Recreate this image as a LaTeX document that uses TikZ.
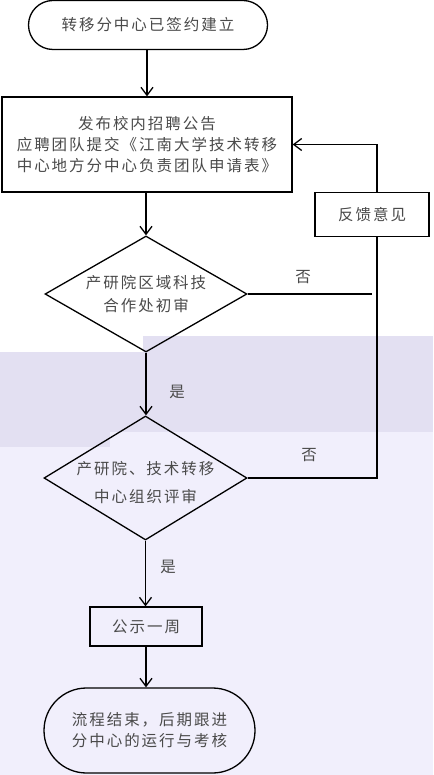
\documentclass[tikz,border=0pt]{standalone}
\usepackage{fontspec}
\setmainfont{Noto Sans CJK SC}
\usetikzlibrary{shapes.geometric,shapes.misc,arrows.meta}
\newlength\cjkgap
\setlength\cjkgap{2pt}
\XeTeXinterchartokenstate=1
\count255="4E00
\loop
  \XeTeXcharclass\count255=1
  \advance\count255 by 1
\ifnum\count255<"A000 \repeat
\XeTeXcharclass"3001=1
\XeTeXcharclass"FF0C=1
\XeTeXcharclass"300A=1
\XeTeXcharclass"300B=1
\XeTeXinterchartoks 1 1 = {\hskip\cjkgap\relax}
\newcommand\cnfont[1]{\fontsize{15.5}{#1}\selectfont}
\definecolor{bandA}{HTML}{E3E0F2}
\definecolor{bandB}{HTML}{F1EFFC}
\definecolor{txt}{HTML}{4A4A4A}
\begin{document}
\begin{tikzpicture}[x=1pt,y=-1pt,
  line/.style={line width=1.3pt, draw=black},
  arr/.style={line, -{Straight Barb[length=8pt,width=12pt]}},
  box/.style={line, rectangle, inner sep=0pt, text=txt, align=center},
  term/.style={line, rounded rectangle, inner sep=0pt, text=txt, align=center},
  dia/.style={line, diamond, inner sep=0pt},
  dtext/.style={inner sep=0pt, text=txt, align=center},
  lbl/.style={inner sep=0pt, text=txt, font=\cnfont{19}}
]
% page and background bands
\useasboundingbox (0,0) rectangle (433,775);
\fill[white] (0,0) rectangle (433,775);
\fill[bandA] (143,336) rectangle (433,352);
\fill[bandA] (0,352) rectangle (433,432);
\fill[bandB] (0,432) rectangle (433,775);
\fill[bandA] (0,432) rectangle (110,447);

% nodes
\node[term, minimum width=239pt, minimum height=49pt, font=\cnfont{19}] (t1) at (148,25) {转移分中心已签约建立};
\node[box, minimum width=290pt, minimum height=95pt, font=\cnfont{21}] (b1) at (147,144.5)
  {发布校内招聘公告\\应聘团队提交《江南大学技术转移\\中心地方分中心负责团队申请表》};
\node[box, minimum width=114pt, minimum height=44pt, font=\cnfont{19}] (fb) at (372,214.5) {反馈意见};
\node[dia, minimum width=202pt, minimum height=116pt,
  label={[dtext, name=d1t, font=\cnfont{23}]center:{产研院区域科技\\合作处初审}}] (d1) at (146,294) {};
\node[dia, minimum width=203pt, minimum height=124pt,
  label={[dtext, name=d2t, font=\cnfont{28}, yshift=-5pt]center:{产研院、技术转移\\中心组织评审}}] (d2) at (145.5,478) {};
\node[box, minimum width=112pt, minimum height=39pt, font=\cnfont{19}] (b2) at (146,626.5) {公示一周};
\node[term, minimum width=211pt, minimum height=85pt, font=\cnfont{21}] (t2) at (149.5,730.5)
  {流程结束，后期跟进\\分中心的运行与考核};

\node[lbl] (no1) at (303,277) {否};
\node[lbl] (no2) at (309,455) {否};
\node[lbl] (yes1) at (177,392) {是};
\node[lbl] (yes2) at (168,567) {是};

\coordinate (loopx) at (377,0);
\coordinate (n1end) at (372,294);
\coordinate (t1bot) at (147,50);

% connectors
\draw[arr] (t1bot) -- (t1bot |- b1.north);
\draw[arr] (b1.south -| d1.north) -- (d1.north);
\draw[arr] (d1.south) -- (d1.south |- d2.north);
\draw[arr] (d2.south) -- (d2.south |- b2.north);
\draw[arr] (b2.south) -- (b2.south |- t2.north);
\draw[arr] (fb.north -| loopx) |- (b1.east);
\draw[line] (d1.east) -- (n1end);
\draw[line] (fb.south -| loopx) |- (d2.east);
\end{tikzpicture}
\end{document}
